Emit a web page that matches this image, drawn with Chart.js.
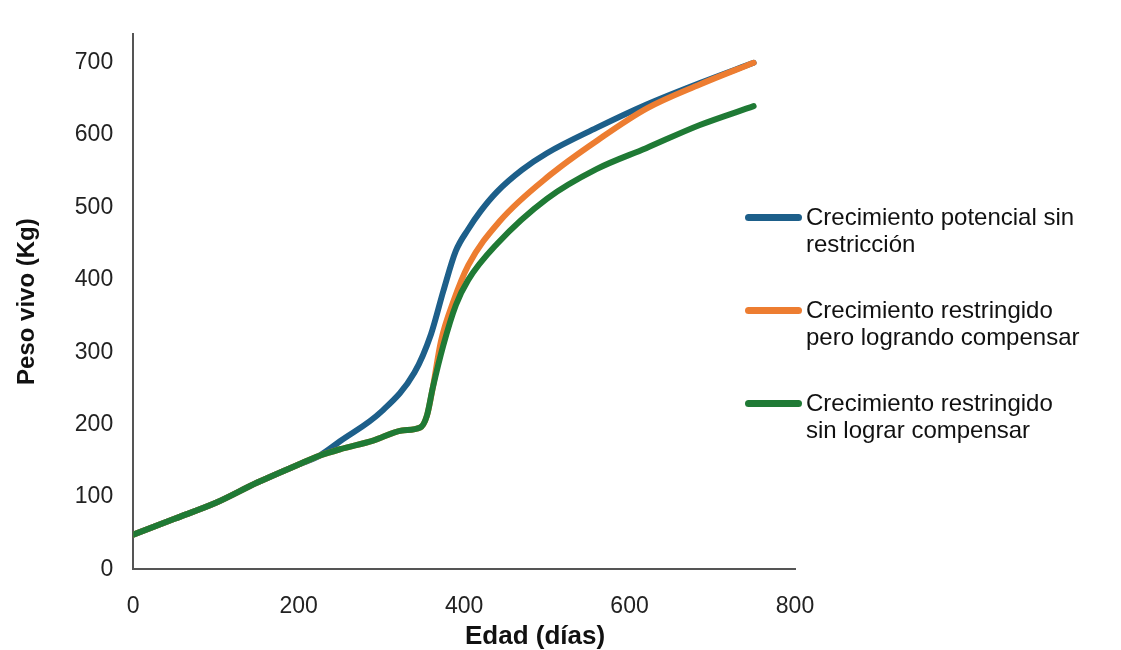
<!DOCTYPE html>
<html>
<head>
<meta charset="utf-8">
<script src="https://cdn.jsdelivr.net/npm/chart.js@4/dist/chart.umd.min.js"></script>
<style>
    html, body { margin: 0; padding: 0; background: #fff; }
    #wrap { position: relative; width: 1121px; height: 650px; overflow: hidden; }
    #legend {
        position: absolute;
        left: 745px;
        top: 204px;
        font-family: "Liberation Sans", Arial, sans-serif;
        font-size: 24px;
        color: #111;
        line-height: 26.5px;
        white-space: nowrap;
    }
    .item { position: relative; padding-left: 61px; margin-bottom: 40px; }
    .swatch {
        position: absolute; left: 0; top: 10px;
        width: 57px; height: 7px; border-radius: 3.5px;
    }
</style>
</head>
<body>
<div id="wrap">
    <canvas id="growth" width="1121" height="650"></canvas>
    <div id="legend"></div>
</div>
<script>
// age in days and live weight in kg for each growth path
const potentialDays = [0, 50, 100, 150, 200, 225, 250, 300, 340, 360, 375, 390, 405, 420, 440, 470, 500, 560, 620, 685, 750];
const potentialKg   = [48, 70, 92, 120, 145, 157, 177, 218, 272, 325, 385, 440, 470, 495, 522, 552, 575, 610, 642, 672, 700];

const compensatedDays = [0, 50, 100, 150, 200, 225, 250, 290, 325, 347, 355, 362, 372, 387, 405, 443, 504, 564, 621, 685, 750];
const compensatedKg   = [48, 70, 92, 120, 145, 157, 166, 178, 192, 196, 212, 250, 315, 370, 420, 481, 545, 595, 637, 670, 700];

const restrictedDays = [0, 50, 100, 150, 200, 225, 250, 290, 325, 347, 355, 362, 375, 390, 405, 440, 500, 560, 620, 685, 750];
const restrictedKg   = [48, 70, 92, 120, 145, 157, 166, 178, 192, 196, 212, 250, 310, 365, 400, 450, 512, 553, 582, 614, 640];

const seriesNames = [
    ['Crecimiento potencial sin', 'restricción'],
    ['Crecimiento restringido', 'pero logrando compensar'],
    ['Crecimiento restringido', 'sin lograr compensar']
];
const seriesColors = ['#1d5f8a', '#ed7d31', '#1f7a35'];

const xTicks = [0, 200, 400, 600, 800];
const xTitle = 'Edad (días)';
const yTitle = 'Peso vivo (Kg)';

function toPoints(days, kg) {
    return days.map((d, i) => ({ x: d, y: kg[i] }));
}

const family = '"Liberation Sans", Arial, sans-serif';
const tickFont = { family: family, size: 23 };

function makeDataset(days, kg, i, order) {
    return {
        label: seriesNames[i].join(' '),
        data: toPoints(days, kg),
        borderColor: seriesColors[i],
        borderWidth: 6,
        borderCapStyle: 'round',
        borderJoinStyle: 'round',
        pointRadius: 0,
        cubicInterpolationMode: 'monotone',
        order: order
    };
}

// x axis title sits a bit right of the plot centre, so draw it by hand
const xTitlePlugin = {
    id: 'xTitle',
    afterDraw(chart) {
        const area = chart.chartArea;
        const c = chart.ctx;
        c.save();
        c.font = 'bold 26px ' + family;
        c.fillStyle = '#111';
        c.textAlign = 'center';
        c.textBaseline = 'middle';
        c.fillText(xTitle, (area.left + area.right) / 2 + 71, area.bottom + 67);
        c.restore();
    }
};

const config = {
    type: 'line',
    data: {
        datasets: [
            makeDataset(potentialDays, potentialKg, 0, 3),
            makeDataset(compensatedDays, compensatedKg, 1, 2),
            makeDataset(restrictedDays, restrictedKg, 2, 1)
        ]
    },
    options: {
        responsive: false,
        animation: false,
        layout: { padding: { left: 13, top: 0, right: 326, bottom: 7 } },
        plugins: {
            legend: { display: false },
            tooltip: { enabled: false }
        },
        scales: {
            x: {
                type: 'linear',
                min: 0,
                max: 800,
                afterBuildTicks: (scale) => { scale.ticks = xTicks.map(v => ({ value: v })); },
                grid: { display: false, drawTicks: false },
                border: { display: true, color: '#555', width: 2 },
                ticks: { color: '#222', font: tickFont, padding: 23, maxRotation: 0 },
                title: { display: false }
            },
            y: {
                min: 0,
                max: 740,
                ticks: {
                    stepSize: 100,
                    color: '#222',
                    font: tickFont,
                    padding: 20,
                    callback: (v) => (v % 100 === 0 ? v : '')
                },
                grid: { display: false, drawTicks: false },
                border: { display: true, color: '#555', width: 2 },
                title: {
                    display: true,
                    text: yTitle,
                    color: '#111',
                    font: { family: family, size: 24, weight: 'bold' },
                    padding: { top: 0, bottom: 13 }
                }
            }
        }
    },
    plugins: [xTitlePlugin]
};

const ctx = document.getElementById('growth').getContext('2d');
const chart = new Chart(ctx, config);

// legend with wrapped labels, built from the same series names and colours
const legend = document.getElementById('legend');
seriesNames.forEach((lines, i) => {
    const item = document.createElement('div');
    item.className = 'item';
    const swatch = document.createElement('span');
    swatch.className = 'swatch';
    swatch.style.background = seriesColors[i];
    item.appendChild(swatch);
    item.appendChild(document.createTextNode(lines[0]));
    item.appendChild(document.createElement('br'));
    item.appendChild(document.createTextNode(lines[1]));
    legend.appendChild(item);
});
</script>
</body>
</html>
